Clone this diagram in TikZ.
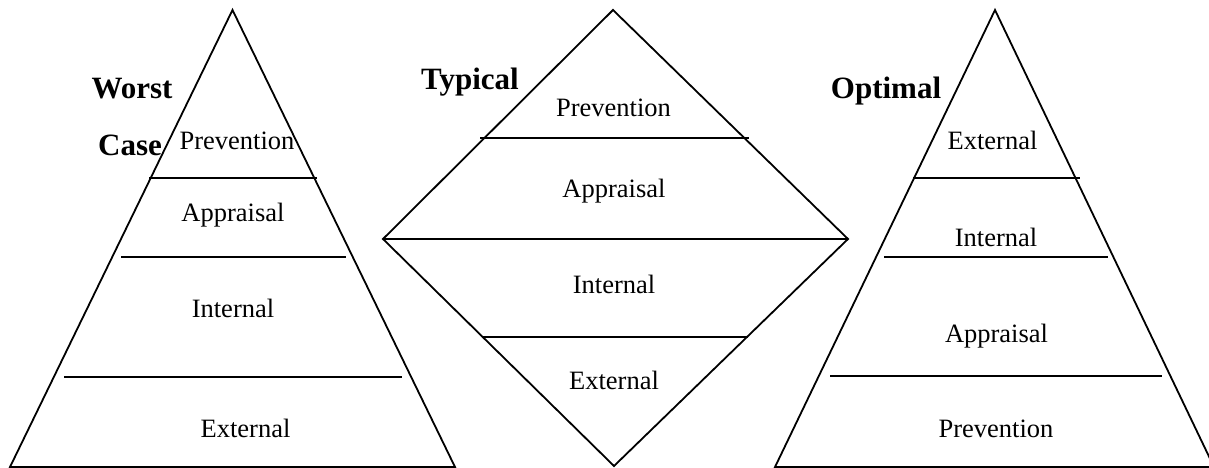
\documentclass[tikz,border=0pt]{standalone}
\usepackage{fontspec}
\setmainfont{Liberation Serif}
\begin{document}
\begin{tikzpicture}[x=1pt,y=-1pt,
  outline/.style={line width=1.8pt,line join=miter},
  band/.style={line width=1.8pt},
  lvl/.style={anchor=base,inner sep=0pt,font=\fontsize{26.5}{30}\selectfont},
  tag/.style={anchor=base,inner sep=0pt,font=\fontsize{31}{36}\selectfont\bfseries}]
\useasboundingbox (0,0) rectangle (1209,468);

% Worst case pyramid
\draw[outline] (232.5,10) -- (455,467) -- (10,467) -- cycle;
\draw[band] (149,178) -- (317,178);
\draw[band] (121,257) -- (346,257);
\draw[band] (64,377) -- (402,377);
\node[tag] (worst) at (132,99) {Worst};
\node[tag] (case) at (130,155) {Case};
\node[lvl] (wprev) at (237,149) {Prevention};
\node[lvl] (wappr) at (233,221) {Appraisal};
\node[lvl] (wint) at (233,317) {Internal};
\node[lvl] (wext) at (245.5,437) {External};

% Typical diamond
\draw[outline] (613,10) -- (848,239) -- (614,466) -- (383,239) -- cycle;
\draw[band] (480,138) -- (749,138);
\draw[band] (383,239) -- (848,239);
\draw[band] (482,337) -- (748,337);
\node[tag] (typical) at (470,90) {Typical};
\node[lvl] (tprev) at (613.5,117) {Prevention};
\node[lvl] (tappr) at (614,197) {Appraisal};
\node[lvl] (tint) at (614,293) {Internal};
\node[lvl] (text) at (614,389) {External};

% Optimal pyramid
\draw[outline] (995,10) -- (1214,467) -- (775,467) -- cycle;
\draw[band] (913,178) -- (1080,178);
\draw[band] (884,257) -- (1108,257);
\draw[band] (830,376) -- (1162,376);
\node[tag] (optimal) at (886,99) {Optimal};
\node[lvl] (oext) at (992.5,149) {External};
\node[lvl] (oint) at (996,246) {Internal};
\node[lvl] (oappr) at (996.5,342) {Appraisal};
\node[lvl] (oprev) at (996,437) {Prevention};
\end{tikzpicture}
\end{document}
